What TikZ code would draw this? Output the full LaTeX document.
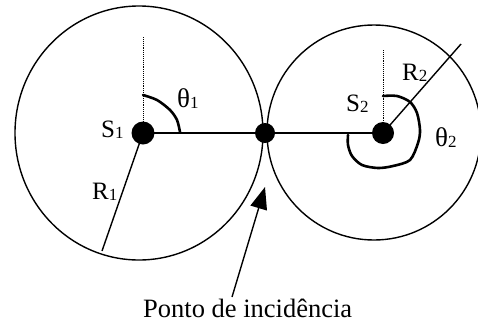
\documentclass[tikz,border=0pt]{standalone}
\usepackage{fontspec}
\setmainfont{Liberation Serif}
\usetikzlibrary{arrows.meta,shapes.geometric}
\newcommand\lowsub[1]{\raisebox{-1.5pt}{\fontsize{17}{17}\selectfont #1}}
\newcommand\bigtheta{{\fontsize{27}{30}\selectfont θ}}
\begin{document}
\begin{tikzpicture}[x=1pt,y=-1pt,
  outline/.style={draw, line width=1.4pt, ellipse, inner sep=0pt, outer sep=0pt},
  dot/.style={circle, fill=black, inner sep=0pt, outer sep=0pt},
  radius line/.style={line width=1.4pt},
  angle arc/.style={line width=2.6pt, line join=round, line cap=round},
  guide/.style={densely dotted, line width=0.9pt},
  lbl/.style={font=\fontsize{25}{30}\selectfont, inner sep=0pt, anchor=base west},
  pointer/.style={line width=1.4pt, -{Triangle[length=22pt,width=17pt]}}]
\useasboundingbox (0,0) rectangle (478,322);
% circles
\node[outline, minimum width=248pt, minimum height=254pt] (c1) at (139,133) {};
\node[outline, minimum width=214pt, minimum height=215pt] (c2) at (374,132.5) {};
% dots
\node[dot, minimum size=23pt] (s1) at (143,133) {};
\node[dot, minimum size=20pt] (p) at (265,133) {};
\node[dot, minimum size=22pt] (s2) at (383,133) {};
% guides
\coordinate (t1) at (143,37);
\coordinate (t2) at (383,50);
\draw[guide] (t1) -- (s1.center);
\draw[guide] (t2) -- (s2.center);
% centre line
\draw[radius line] (s1.center) -- (p.center) -- (s2.center);
% radii
\coordinate (r1end) at (102,251);
\coordinate (r2end) at (461,44);
\draw[radius line] (s1.center) -- (r1end);
\draw[radius line] (s2.center) -- (r2end);
% angle arcs
\draw[angle arc] plot[smooth] coordinates {(143,95) (157,100) (170,110) (177,120) (180,132)};
\draw[angle arc] plot[smooth] coordinates {(383,96) (397,96) (410,102) (417,113) (420,130) (418,143) (410,160) (393,166) (378,168) (362,165) (352,156) (348,145) (348,135)};
% pointer
\coordinate (tail) at (232,297);
\coordinate (tip) at (265,187);
\draw[pointer] (tail) -- (tip);
% labels
\node[lbl] (lt1) at (177,107) {\bigtheta\lowsub{1}};
\node[lbl] (ls1) at (101,137) {S\lowsub{1}};
\node[lbl] (lr1) at (92,199) {R\lowsub{1}};
\node[lbl] (ls2) at (346,111) {S\lowsub{2}};
\node[lbl] (lr2) at (402,80) {R\lowsub{2}};
\node[lbl] (lt2) at (435,146) {\bigtheta\lowsub{2}};
\node[lbl, font=\fontsize{26.5}{30}\selectfont] (cap) at (143,317) {Ponto de incidência};
\end{tikzpicture}
\end{document}
